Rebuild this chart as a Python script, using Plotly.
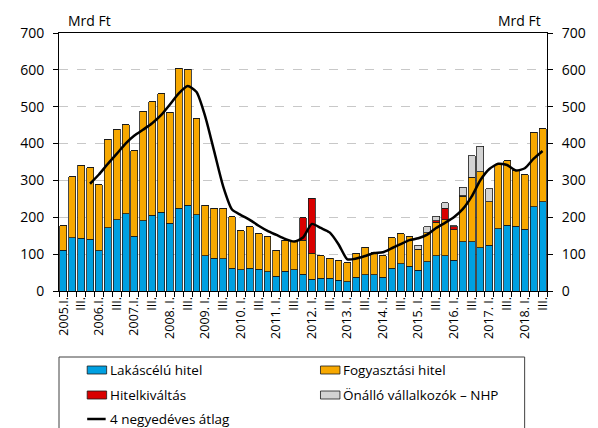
import plotly.graph_objects as go

# ---------------- data ----------------
years = list(range(2005, 2019))
quarters = ["I.", "II.", "III.", "IV."]
categories = [f"{y}. {q}" for y in years for q in quarters][:55]

tick_labels = []
for y in years:
    first = f"{y}.I." if y <= 2007 else f"{y}. I."
    tick_labels += [first, "", "III.", ""]
tick_labels = tick_labels[:55]

lakascelu = [111, 145, 143, 141, 109, 171, 193, 209, 149, 190, 205, 214, 184, 225, 233, 207,
             95, 89, 87, 62, 57, 62, 59, 52, 40, 54, 57, 45, 32, 34, 34, 29,
             25, 37, 44, 44, 37, 62, 74, 67, 56, 79, 95, 95, 83, 133, 133, 117,
             124, 169, 179, 176, 168, 228, 242]
fogyasztasi = [66, 165, 198, 194, 179, 241, 246, 242, 232, 298, 309, 321, 301, 379, 368, 261,
               137, 136, 138, 139, 106, 113, 97, 95, 71, 84, 77, 93, 70, 61, 55, 55,
               51, 66, 75, 60, 58, 83, 82, 81, 57, 79, 91, 99, 83, 124, 176, 206,
               118, 173, 175, 151, 147, 203, 198]
hitelkivaltas = [0] * 27 + [61, 150] + [0] * 12 + [0, 5, 30, 8, 2] + [0] * 10
onallo_nhp = [0] * 40 + [11, 16, 12, 15, 3, 23, 58, 70, 35] + [0] * 6
atlag_x = categories[3:]
atlag = [291, 316, 345, 372, 400, 422, 438, 455, 477, 506, 536, 556, 540, 472, 378, 284,
         221, 206, 193, 177, 163, 152, 141, 134, 145, 182, 171, 159, 127, 86, 88, 95,
         103, 105, 116, 127, 138, 143, 153, 171, 185, 200, 222, 256, 301, 331, 345, 342,
         327, 333, 359, 380]

series_names = ["Lakáscélú hitel", "Fogyasztási hitel", "Hitelkiváltás", "Önálló vállalkozók – NHP"]
series_colors = ["#00A0E1", "#F7A800", "#D90000", "#D3D3D3"]
line_name = "4 negyedéves átlag"

# ---------------- layout geometry ----------------
# the page body has an 8px default margin, so the figure is drawn 8px smaller
OFF = 8
W, H = 598 - OFF, 428 - OFF
PL, PT, PWID, PHGT = 53, 33, 502, 258          # plot area in window pixels
ML, MT = PL - OFF, PT - OFF
MR = W - ML - PWID
MB = H - MT - PHGT
FONT = "Open Sans"


def px(x):
    return (x - PL) / PWID


def py(y):
    return (PT + PHGT - y) / PHGT


fig = go.Figure()
for vals, name, col in zip([lakascelu, fogyasztasi, hitelkivaltas, onallo_nhp], series_names, series_colors):
    fig.add_trace(go.Bar(x=categories, y=vals, name=name, marker_color=col,
                         marker_line_color="#1a1a1a", marker_line_width=0.8,
                         showlegend=False))
fig.add_trace(go.Scatter(x=atlag_x, y=atlag, name=line_name, mode="lines",
                         line=dict(color="black", width=2.5, shape="spline", smoothing=0.6),
                         showlegend=False))
fig.add_trace(go.Scatter(x=[categories[0]], y=[0], yaxis="y2", mode="lines",
                         line=dict(width=0), hoverinfo="skip", showlegend=False))

fig.update_layout(
    width=W, height=H, autosize=False,
    margin=dict(l=ML, r=MR, t=MT, b=MB, pad=0),
    paper_bgcolor="white", plot_bgcolor="white",
    barmode="stack", bargap=0.22,
    font=dict(family=FONT, size=13, color="black"),
    xaxis=dict(type="category", range=[-0.5, len(categories) - 0.5],
               tickmode="array", tickvals=categories, ticktext=tick_labels,
               tickson="boundaries", ticks="outside", ticklen=5, tickcolor="black",
               tickangle=-90, tickfont=dict(size=12.5), showline=True, mirror=True,
               linecolor="black", linewidth=1, showgrid=False),
    yaxis=dict(range=[0, 700], dtick=100, showgrid=True, gridcolor="#c8c8c8",
               griddash="dash", gridwidth=1, showline=True, linecolor="black",
               ticks="outside", ticklen=5, tickcolor="black", zeroline=False,
               tickfont=dict(size=14), ticklabelstandoff=6),
    yaxis2=dict(range=[0, 700], dtick=100, overlaying="y", side="right", showgrid=False,
                showline=True, linecolor="black", ticks="outside", ticklen=5,
                tickcolor="black", zeroline=False, tickfont=dict(size=14),
                ticklabelstandoff=6),
)

annotations = [
    dict(text="Mrd Ft", x=px(60), y=py(21), xref="paper", yref="paper",
         xanchor="left", yanchor="middle", showarrow=False, font=dict(size=14)),
    dict(text="Mrd Ft", x=px(551), y=py(21), xref="paper", yref="paper",
         xanchor="right", yanchor="middle", showarrow=False, font=dict(size=14)),
]
shapes = [
    dict(type="rect", xref="paper", yref="paper", x0=px(53), x1=px(532), y0=py(357), y1=py(440),
         line=dict(color="#404040", width=1), fillcolor="rgba(0,0,0,0)", layer="above"),
]

# manual legend
legend_pos = [(82, 370), (322, 370), (82, 395), (322, 395)]
for (lx, ly), name, col in zip(legend_pos, series_names, series_colors):
    shapes.append(dict(type="rect", xref="paper", yref="paper", x0=px(lx), x1=px(lx + 20),
                       y0=py(ly + 4), y1=py(ly - 4), fillcolor=col,
                       line=dict(color="#1a1a1a", width=0.8)))
    annotations.append(dict(text=name, x=px(lx + 21), y=py(ly), xref="paper", yref="paper",
                            xanchor="left", yanchor="middle", showarrow=False, font=dict(size=13.5)))
shapes.append(dict(type="line", xref="paper", yref="paper", x0=px(82), x1=px(101),
                   y0=py(419), y1=py(419), line=dict(color="black", width=2.5)))
annotations.append(dict(text=line_name, x=px(103), y=py(419), xref="paper", yref="paper",
                        xanchor="left", yanchor="middle", showarrow=False, font=dict(size=13.5)))

fig.update_layout(annotations=annotations, shapes=shapes)
fig.write_html("out.html")
